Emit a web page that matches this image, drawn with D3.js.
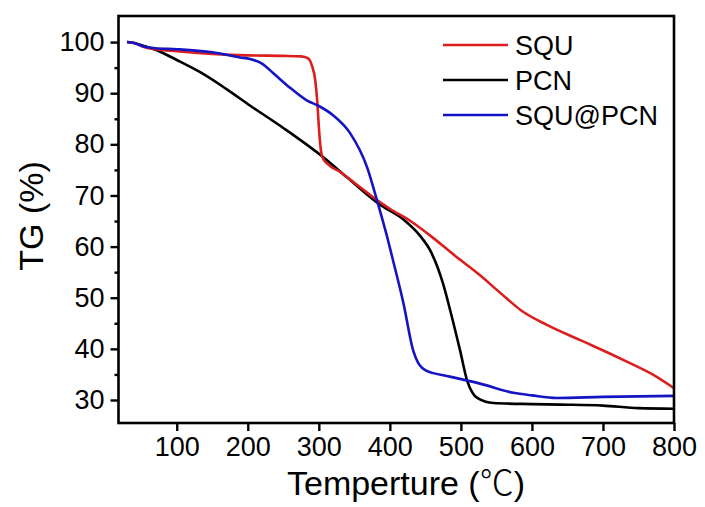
<!DOCTYPE html>
<html>
<head>
<meta charset="utf-8">
<script src="https://cdn.jsdelivr.net/npm/d3@7"></script>
<style>
  html, body { margin: 0; padding: 0; background: #fff; }
  svg { display: block; }
  text { font-family: "Liberation Sans", Arial, sans-serif; fill: #000; }
</style>
</head>
<body>
<svg id="chart" width="705" height="507"></svg>
<script>
// TG curves: temperature (°C) and remaining mass (%)
const squTemp = [30, 40, 55, 70, 100, 150, 200, 250, 275, 285, 290, 295, 298, 300, 302, 305, 312, 330, 350, 377, 400, 430, 460, 490, 527, 555, 588, 621, 668, 714, 738, 771, 800];
const squMass = [100, 99.8, 99, 98.6, 98.2, 97.7, 97.4, 97.3, 97.2, 96.8, 95.5, 92.5, 88, 83.5, 80, 77.5, 76.2, 74.6, 72.5, 69.6, 67.4, 64.9, 61.8, 58.4, 54.4, 51.0, 47.2, 44.7, 41.7, 38.8, 37.2, 34.9, 32.3];

const pcnTemp = [30, 40, 55, 72, 100, 133, 170, 203, 250, 306, 340, 386, 420, 442, 457, 475, 485, 499, 509, 516, 523, 546, 600, 640, 700, 750, 800];
const pcnMass = [100, 99.8, 99.2, 98.4, 96.5, 94.1, 90.8, 87.6, 83.2, 77.5, 73.5, 68.2, 65.2, 62.2, 59.2, 52.7, 47.5, 39.6, 33.7, 31.5, 30.4, 29.4, 29.2, 29.1, 28.9, 28.4, 28.3];

const squPcnTemp = [30, 40, 55, 70, 100, 150, 189, 203, 220, 236, 260, 283, 300, 320, 344, 368, 382, 396, 405, 419, 433, 440, 447, 460, 480, 527, 574, 600, 635, 700, 750, 800];
const squPcnMass = [100, 99.8, 99.1, 98.8, 98.6, 98.0, 97.0, 96.7, 95.8, 93.9, 91, 88.6, 87.5, 85.7, 82.2, 75.5, 69, 62, 57, 49, 39.6, 37.2, 36.1, 35.3, 34.7, 33.2, 31.4, 30.9, 30.4, 30.6, 30.7, 30.8];

const seriesNames = ["SQU", "PCN", "SQU@PCN"];
const seriesColors = ["#dc1e1e", "#000000", "#1414c4"];

const xTicks = [100, 200, 300, 400, 500, 600, 700, 800];
const yTicks = [30, 40, 50, 60, 70, 80, 90, 100];
const yMinorTicks = [35, 45, 55, 65, 75, 85, 95];

const series = [
  { name: seriesNames[0], color: seriesColors[0], pts: d3.zip(squTemp, squMass) },
  { name: seriesNames[1], color: seriesColors[1], pts: d3.zip(pcnTemp, pcnMass) },
  { name: seriesNames[2], color: seriesColors[2], pts: d3.zip(squPcnTemp, squPcnMass) }
];

const svg = d3.select("#chart");
const plotLeft = 118.5, plotRight = 674, plotTop = 16, plotBottom = 423;

const x = d3.scaleLinear().domain([18, 800]).range([plotLeft, plotRight]);
const y = d3.scaleLinear().domain([25.5, 105.1]).range([plotBottom, plotTop]);

// curves
const line = d3.line()
  .x(d => x(d[0]))
  .y(d => y(d[1]))
  .curve(d3.curveMonotoneX);

svg.append("clipPath").attr("id", "clip")
  .append("rect").attr("x", plotLeft).attr("y", plotTop)
  .attr("width", plotRight - plotLeft).attr("height", plotBottom - plotTop);

const curves = svg.append("g").attr("clip-path", "url(#clip)");
// draw order: PCN, SQU, SQU@PCN
[1, 0, 2].forEach(i => {
  curves.append("path")
    .datum(series[i].pts)
    .attr("fill", "none")
    .attr("stroke", series[i].color)
    .attr("stroke-width", 2.6)
    .attr("stroke-linejoin", "round")
    .attr("d", line);
});

// frame
svg.append("rect")
  .attr("x", plotLeft).attr("y", plotTop)
  .attr("width", plotRight - plotLeft).attr("height", plotBottom - plotTop)
  .attr("fill", "none").attr("stroke", "#000").attr("stroke-width", 2.6);

// x axis
const xAxis = d3.axisBottom(x).tickValues(xTicks).tickSize(8).tickPadding(6).tickFormat(d3.format("d"));
const gx = svg.append("g").attr("transform", `translate(0,${plotBottom})`).call(xAxis);
gx.select(".domain").remove();
gx.selectAll(".tick line").attr("stroke-width", 2.4);
gx.selectAll(".tick text").attr("font-size", 27).attr("font-family", "Liberation Sans, Arial, sans-serif");

// y axis
const yAxis = d3.axisLeft(y).tickValues(yTicks).tickSize(8).tickPadding(6).tickFormat(d3.format("d"));
const gy = svg.append("g").attr("transform", `translate(${plotLeft},0)`).call(yAxis);
gy.select(".domain").remove();
gy.selectAll(".tick line").attr("stroke-width", 2.4);
gy.selectAll(".tick text").attr("font-size", 27).attr("font-family", "Liberation Sans, Arial, sans-serif");

const gyMinor = svg.append("g").attr("transform", `translate(${plotLeft},0)`)
  .call(d3.axisLeft(y).tickValues(yMinorTicks).tickSize(4).tickFormat(""));
gyMinor.select(".domain").remove();
gyMinor.selectAll(".tick line").attr("stroke-width", 2.4);

// axis titles
const xt = svg.append("text")
  .attr("x", 406)
  .attr("y", 495)
  .attr("text-anchor", "middle")
  .attr("font-size", 34);
xt.append("tspan").text("Temperture (");
xt.append("tspan").text("℃").attr("font-family", "Noto Sans CJK SC, sans-serif").attr("font-weight", 300);
xt.append("tspan").text(")");

svg.append("text")
  .attr("transform", `translate(43,216) rotate(-90)`)
  .attr("text-anchor", "middle")
  .attr("font-size", 34)
  .text("TG (%)");

// legend
const lg = svg.append("g");
series.forEach((s, i) => {
  const ly = 45 + i * 35;
  lg.append("line")
    .attr("x1", 443).attr("x2", 508)
    .attr("y1", ly).attr("y2", ly)
    .attr("stroke", s.color).attr("stroke-width", 2.6);
  lg.append("text")
    .attr("x", 515).attr("y", ly + 9.5)
    .attr("font-size", 27)
    .text(s.name);
});
</script>
</body>
</html>
